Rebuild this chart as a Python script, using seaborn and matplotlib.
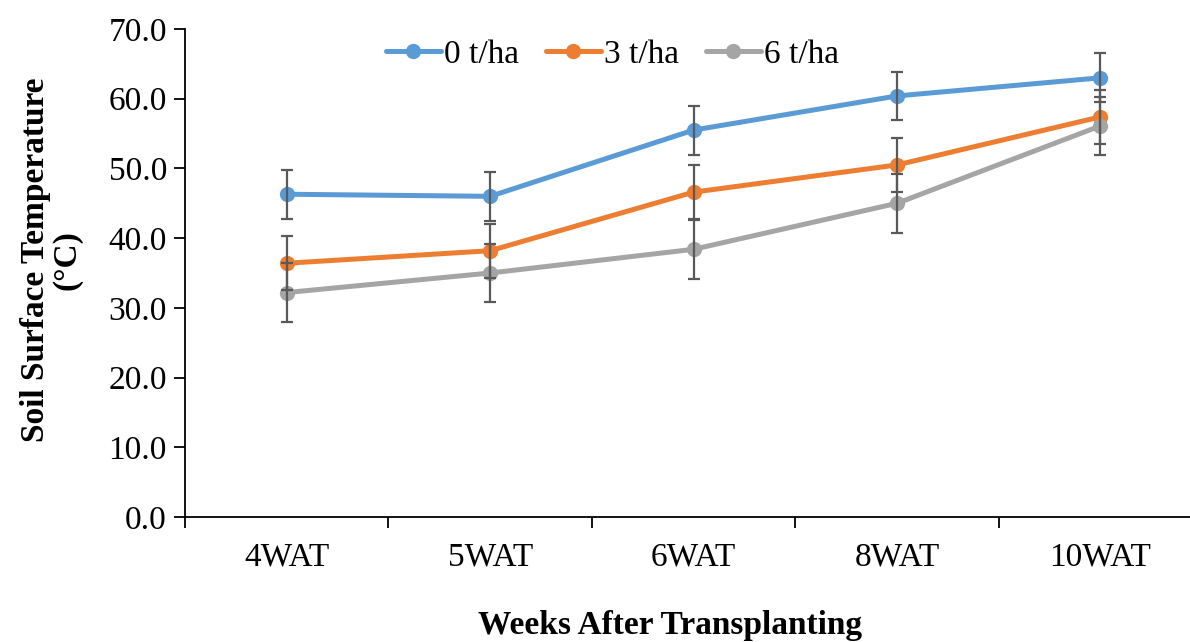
import numpy as np
import pandas as pd
import matplotlib
matplotlib.use("Agg")
import matplotlib.pyplot as plt
import seaborn as sns

categories = ["4WAT", "5WAT", "6WAT", "8WAT", "10WAT"]
series_names = ["0 t/ha", "3 t/ha", "6 t/ha"]
vals_0 = [46.3, 46.0, 55.5, 60.4, 63.0]
vals_3 = [36.4, 38.2, 46.6, 50.5, 57.4]
vals_6 = [32.2, 35.0, 38.4, 45.0, 56.1]
err_0 = [3.5, 3.5, 3.5, 3.5, 3.5]
err_3 = [3.9, 3.9, 3.9, 3.9, 3.9]
err_6 = [4.2, 4.2, 4.2, 4.2, 4.2]
yticks = [0, 10, 20, 30, 40, 50, 60, 70]

colors = ["#5B9BD5", "#ED7D31", "#A5A5A5"]

sns.set_theme(style="white")
plt.rcParams['font.family'] = ['Liberation Serif', 'DejaVu Serif']
plt.rcParams['text.color'] = 'black'
plt.rcParams['axes.labelcolor'] = 'black'
plt.rcParams['xtick.color'] = 'black'
plt.rcParams['ytick.color'] = 'black'

FS = 24

rows = []
for name, vals, errs in zip(series_names, [vals_0, vals_3, vals_6], [err_0, err_3, err_6]):
    for i, (c, v, e) in enumerate(zip(categories, vals, errs)):
        rows.append({"series": name, "cat": c, "x": i, "y": v, "err": e})
df = pd.DataFrame(rows)

fig = plt.figure(figsize=(11.9, 6.42), dpi=100)
ax = fig.add_axes([0.1555, 0.1947, 0.8546, 0.7601])

sns.lineplot(data=df, x="x", y="y", hue="series", hue_order=series_names,
             palette=colors, marker="o", markersize=11, markeredgewidth=0,
             linewidth=3.6, ax=ax, errorbar=None)

for name in series_names:
    sub = df[df.series == name]
    ax.errorbar(sub.x, sub.y, yerr=sub.err, fmt="none", ecolor="#595959",
                elinewidth=1.6, capsize=4, capthick=1.6, zorder=5)

ax.set_xlim(-0.5, 4.5)
ax.set_ylim(0, 70)
ax.set_yticks(yticks)
ax.set_yticklabels([f"{t:.1f}" for t in yticks], fontsize=FS)
ax.set_xticks(range(len(categories)))
ax.set_xticklabels(categories, fontsize=FS)
ax.set_xticks(np.arange(-0.5, len(categories) + 0.5, 1), minor=True)
ax.tick_params(axis="x", which="major", length=0, pad=18)
ax.tick_params(axis="x", which="minor", length=8, width=1.3, direction="out", color="black")
ax.tick_params(axis="y", which="major", length=8, width=1.3, direction="out", color="black", pad=5)
ax.xaxis.set_tick_params(bottom=True, which="both")
ax.yaxis.set_tick_params(left=True)

for s in ["top", "right"]:
    ax.spines[s].set_visible(False)
for s in ["left", "bottom"]:
    ax.spines[s].set_color("black")
    ax.spines[s].set_linewidth(1.3)

ax.set_ylabel("Soil Surface Temperature\n(°C)", fontsize=FS, fontweight="bold", linespacing=1.0)
ax.yaxis.set_label_coords(-0.101, 0.527)

handles, labels = ax.get_legend_handles_labels()
ax.legend(handles, labels, loc="center", bbox_to_anchor=(0.42, 0.947), ncol=3,
          frameon=False, fontsize=FS, handlelength=1.65, handletextpad=0.1,
          columnspacing=0.8, borderpad=0, borderaxespad=0)
ax.set_xlabel("Weeks After Transplanting", fontsize=FS, fontweight="bold")
ax.xaxis.set_label_coords(0.477, -0.19)

fig.savefig("out.png", dpi=100)
